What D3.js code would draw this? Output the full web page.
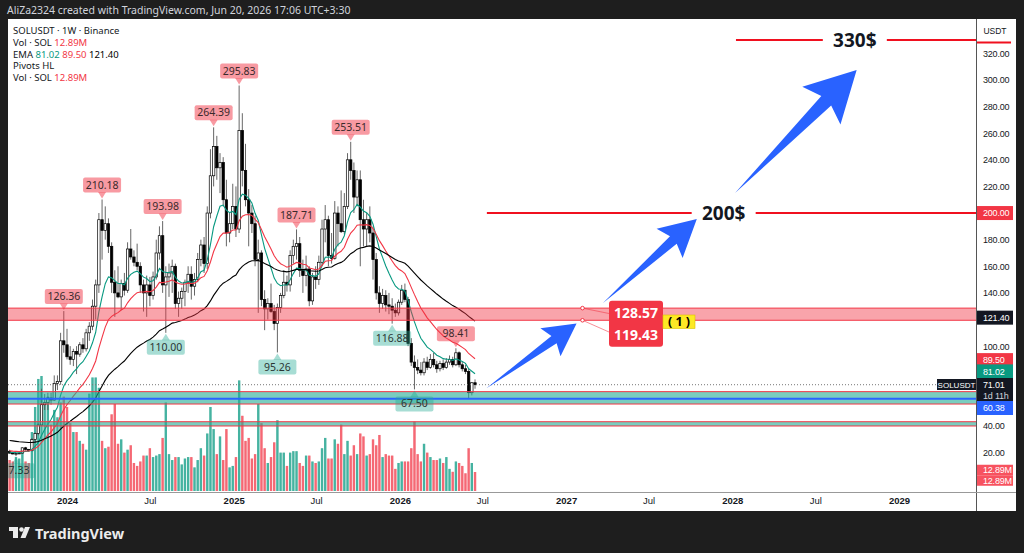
<!DOCTYPE html>
<html><head><meta charset="utf-8">
<script src="https://cdn.jsdelivr.net/npm/d3@7"></script>
<style>
html,body{margin:0;padding:0;background:#1e1e1e;}
svg{display:block;font-family:"Noto Sans","DejaVu Sans",sans-serif;}
</style></head><body>
<svg id="c" width="1024" height="553"></svg>
<script>
// ---------------- DATA ----------------
const startWeek = "2023-08-28"; // first weekly bar (Monday)
// weekly candles [open, high, low, close]
const ohlc = [
[21.0,22.1,19.3,19.6],[19.6,20.3,18.6,19.0],[19.0,19.9,17.33,19.4],[19.4,20.4,18.9,19.6],[19.6,24.0,19.2,23.6],
[23.6,24.3,21.6,22.4],[22.4,22.8,20.6,21.4],[21.4,31.0,21.2,29.8],[29.8,35.0,28.0,34.4],[34.4,42.0,33.0,40.8],
[40.8,68.0,40.5,56.0],[56.0,64.0,52.0,57.5],[57.5,65.0,52.0,61.0],[61.0,65.0,56.0,59.5],[59.5,78.0,59.0,72.0],
[72.0,78.0,67.0,73.5],[73.5,110.0,71.0,104.0],[104.0,126.36,95.0,101.0],[101.0,113.0,90.0,92.0],[92.0,100.0,86.0,90.0],
[90.0,98.0,85.0,96.0],[96.0,100.0,79.0,94.0],[94.0,103.0,92.0,101.0],[101.0,106.0,95.0,98.0],[98.0,113.0,96.0,110.0],
[110.0,118.0,104.0,115.0],[115.0,135.0,112.0,130.0],[130.0,150.0,120.0,146.0],[146.0,200.0,140.0,195.0],[195.0,210.18,165.0,187.0],
[187,205,180,192],[192,196,170,175],[175,178,140,148],[148,157,122,140],[140,160,136,137],
[137,150,127,147],[147,155,138,142],[142,178,140,173],[173,188,165,167],[167,172,160,163],
[163,177,157,160],[160,163,140,146],[146,150,126,140],[140,153,122,146],[146,152,130,138],
[138,156,135,152],[152,180,150,170],[170,190,165,183],[183,193.98,140,146],[146,160,110,152],
[152,162,137,155],[155,165,140,160],[160,162,128,132],[132,141,122,136],[136,144,128,141],
[141,150,130,148],[148,160,140,154],[154,160,135,145],[145,155,138,150],[150,170,148,165],
[165,180,160,176],[176,182,155,162],[162,205,158,200],[200,248,196,228],[228,264.39,220,250],
[250,258,225,234],[234,245,215,238],[238,242,205,210],[210,225,175,185],[185,200,178,192],
[192,222,188,205],[205,220,182,188],[188,295.83,185,262],[262,275,220,232],[232,252,205,210],
[210,218,175,200],[200,206,185,192],[192,198,160,165],[165,180,125,170],[170,172,130,135],
[135,142,112,128],[128,136,120,132],[132,147,125,126],[126,131,112,117],[117,132,95.26,129],
[129,140,125,138],[138,157,136,148],[148,153,141,146],[146,172,141,168],[168,180,162,175],
[175,187.71,165,177],[177,182,152,157],[157,165,140,153],[153,168,145,158],[158,160,130,134],
[134,155,131,152],[152,160,143,150],[150,168,146,163],[163,195,160,188],[188,206,178,195],
[195,198,160,168],[168,185,162,166],[166,209,165,200],[200,205,175,192],[192,217,185,186],
[186,215,184,205],[205,245,203,240],[240,253.51,225,232],[232,238,200,212],[212,232,205,225],
[225,232,160,195],[195,210,175,188],[188,200,175,195],[195,205,178,185],[185,190,150,165],
[165,170,135,140],[140,145,125,132],[132,143,128,138],[138,142,126,131],[131,140,124,130],
[130,136,116.88,127],[127,132,122,125],[125,135,123,133],[133,146,131,142],[142,147,133,135],
[135,137,100,102],[102,106,85,88],[88,93,67.5,84],[84,90,79,82],[82,88,78,80],
[80,91,78,88],[88,92,82,84],[84,94,83,90],[90,95,84,86],[86,89,80,83],
[83,89,81,87],[87,90,82,84],[84,91,83,88],[88,93,86,90],[90,92,84,86],
[86,98.41,85,95],[95,96,84,86],[86,88,81,83],[83,86,79,81],[81,83,60.38,65],
[65,73,63,72.5],[72.5,75,68,71.01]
];
// weekly volume, millions of SOL
const volumes = [
21,20,23,22,28,20,19,40,57,76,78,60,64,45,55,50,60,64,57,46,40,40,34,32,28,66,77,77,70,34,
29,30,52,59,32,35,26,28,31,19,17,20,24,24,29,23,24,25,36,60,25,21,23,23,18,22,23,23,16,21,
29,24,39,57,42,25,37,21,42,16,17,23,75,51,34,36,22,25,59,46,29,19,23,33,48,26,26,17,26,27,
27,19,17,24,24,20,19,20,29,36,22,22,35,32,45,25,34,24,31,25,39,37,24,25,35,31,38,23,25,24,
24,15,19,20,20,20,29,47,25,20,32,26,23,21,21,22,19,23,15,13,20,19,17,12,29,19,12.89
];
const pivotHighs = [126.36,210.18,193.98,264.39,295.83,187.71,253.51,98.41];
const pivotLows = [17.33,110.00,95.26,116.88,67.50];
const emaPeriods = [10,21,55];
const emaSeeds = [20.5,21.5,29.5];
const emaLabels = ["81.02","89.50","121.40"];
const redZone = [119.43,128.57];
const tealZone = [56.5,65.8];
const tealZone2 = [40.0,43.2];
const supportLine = 60.38;
const lastPrice = 71.01;
const priceTicks = [20,40,60,80,100,120,140,160,180,200,220,240,260,280,300,320];
const timeTicks = ["2024-01-01","2024-07-01","2025-01-01","2025-07-01","2026-01-01","2026-07-01","2027-01-01","2027-07-01","2028-01-01","2028-07-01","2029-01-01"];
const timeTickLabels = ["2024","Jul","2025","Jul","2026","Jul","2027","Jul","2028","Jul","2029"];
// target drawings (date, price)
const targets = [{from:"2026-07-11",price:200,label:"200$",labelAt:"2027-12-13"},{from:"2028-01-09",price:330,label:"330$",labelAt:"2028-09-26"}];
const arrows = [
 {from:["2026-07-10",68.3],to:["2027-01-24",117.1]},
 {from:["2027-03-23",132.4],to:["2027-10-15",195.5]},
 {from:["2028-01-07",215],to:["2028-09-30",307.5]}
];
const rangePoint = "2027-02-06";
const rangeValues = ["128.57","119.43"];

// ---------------- SCALES ----------------
const PL=8, PR=976, PT=19, PB=492;
const AX = "Liberation Sans, Arial, sans-serif";
const D = s => new Date(s+"T00:00:00Z");
const x = d3.scaleUtc().domain([D("2024-01-01"),D("2029-01-01")]).range([67,899]);
const y = d3.scaleLinear().domain([-9.6,345.8]).range([PB,PT]);
const yv = d3.scaleLinear().domain([0,100]).range([491,343.6]);
const t0 = D(startWeek);
const bars = ohlc.map((d,i)=>({date:d3.utcDay.offset(t0,7*i),o:d[0],h:d[1],l:d[2],c:d[3],v:volumes[i]}));

const svg = d3.select("#c");
svg.append("rect").attr("width",1024).attr("height",553).attr("fill","#1e1e1e");
svg.append("rect").attr("x",8).attr("y",19).attr("width",1008).attr("height",492).attr("fill","#ffffff");
svg.append("clipPath").attr("id","pc").append("rect").attr("x",PL).attr("y",PT).attr("width",PR-PL).attr("height",PB-PT);
const g = svg.append("g").attr("clip-path","url(#pc)");

// volume (two identical volume indicators)
for(let k=0;k<2;k++){
 g.append("g").selectAll("rect").data(bars).join("rect")
  .attr("x",d=>x(d.date)-1.15).attr("width",2.3)
  .attr("y",d=>yv(d.v)).attr("height",d=>yv(0)-yv(d.v))
  .attr("fill",d=>d.c>=d.o?"rgba(8,153,129,0.5)":"rgba(242,54,69,0.5)");
}
// candles
const cg = g.append("g");
cg.selectAll("line").data(bars).join("line")
 .attr("x1",d=>x(d.date)).attr("x2",d=>x(d.date)).attr("y1",d=>y(d.h)).attr("y2",d=>y(d.l))
 .attr("stroke","#555").attr("stroke-width",0.9);
cg.selectAll("rect").data(bars).join("rect")
 .attr("x",d=>x(d.date)-1.2).attr("width",2.4)
 .attr("y",d=>y(Math.max(d.o,d.c))).attr("height",d=>Math.max(0.8,Math.abs(y(d.o)-y(d.c))))
 .attr("fill",d=>d.c>=d.o?"#ffffff":"#000000").attr("stroke","#000").attr("stroke-width",0.7);

// EMAs
const emaColors=["#089981","#f23645","#000000"];
const emaVals = emaPeriods.map((p,k)=>{let e=emaSeeds[k];const a=2/(p+1);return bars.map(b=>{e=a*b.c+(1-a)*e;return e;});});
emaVals.forEach((vals,k)=>{
 g.append("path").datum(vals).attr("fill","none").attr("stroke",emaColors[k]).attr("stroke-width",1.1)
  .attr("d",d3.line().x((v,i)=>x(bars[i].date)).y(v=>y(v)));
});

// zones
function zone(r,fill){
 g.append("rect").attr("x",PL).attr("width",PR-PL).attr("y",y(r[1])).attr("height",y(r[0])-y(r[1])).attr("fill",fill);
 [r[0],r[1]].forEach(v=>g.append("line").attr("x1",PL).attr("x2",PR).attr("y1",y(v)).attr("y2",y(v)).attr("stroke","#f23645").attr("stroke-width",1));
}
zone(redZone,"rgba(242,54,69,0.45)");
zone(tealZone,"rgba(34,171,148,0.6)");
zone(tealZone2,"rgba(34,171,148,0.6)");
g.append("line").attr("x1",PL).attr("x2",PR).attr("y1",y(supportLine)).attr("y2",y(supportLine)).attr("stroke","#2962ff").attr("stroke-width",2);
g.append("line").attr("x1",PL).attr("x2",PR).attr("y1",y(lastPrice)).attr("y2",y(lastPrice)).attr("stroke","#777").attr("stroke-width",1).attr("stroke-dasharray","1,2");

// pivot labels
function pivotLabel(xc,yv0,text,high){
 const w=38,h=15;
 const lg=g.append("g");
 if(high){
  const tip=yv0-1, by=tip-6-h;
  lg.append("path").attr("d",`M${xc-4},${tip-6.5}L${xc},${tip}L${xc+4},${tip-6.5}Z`).attr("fill","rgba(242,54,69,0.5)");
  lg.append("rect").attr("x",xc-w/2).attr("y",by).attr("width",w).attr("height",h).attr("rx",2).attr("fill","rgba(242,54,69,0.5)");
  lg.append("text").attr("x",xc).attr("y",by+h/2+3.6).attr("text-anchor","middle").attr("font-size",10.5).attr("fill","#3a2a2c").text(text);
 } else {
  const tip=yv0+1, by=tip+6;
  lg.append("path").attr("d",`M${xc-4},${tip+6.5}L${xc},${tip}L${xc+4},${tip+6.5}Z`).attr("fill","rgba(34,171,148,0.4)");
  lg.append("rect").attr("x",xc-w/2).attr("y",by).attr("width",w).attr("height",h).attr("rx",2).attr("fill","rgba(34,171,148,0.4)");
  lg.append("text").attr("x",xc).attr("y",by+h/2+3.6).attr("text-anchor","middle").attr("font-size",10.5).attr("fill","#2a3533").text(text);
 }
}
pivotHighs.forEach(v=>{const b=bars.find(b=>b.h===v);pivotLabel(x(b.date),y(v),v.toFixed(2),true);});
pivotLows.forEach(v=>{const b=bars.find(b=>b.l===v);pivotLabel(x(b.date),y(v),v.toFixed(2),false);});

// targets
targets.forEach(t=>{
 const yy=y(t.price), xc=x(D(t.labelAt));
 g.append("line").attr("x1",x(D(t.from))).attr("x2",xc-32).attr("y1",yy).attr("y2",yy).attr("stroke","#f0101f").attr("stroke-width",2);
 g.append("line").attr("x1",xc+32).attr("x2",PR).attr("y1",yy).attr("y2",yy).attr("stroke","#f0101f").attr("stroke-width",2);
 g.append("text").attr("x",xc).attr("y",yy+6.5).attr("text-anchor","middle").attr("font-size",19).attr("font-weight","bold").attr("fill","#131722").text(t.label);
});
// arrows
arrows.forEach(a=>{
 const x0=x(D(a.from[0])),y0=y(a.from[1]),x1=x(D(a.to[0])),y1=y(a.to[1]);
 const dx=x1-x0,dy=y1-y0,L=Math.hypot(dx,dy),ux=dx/L,uy=dy/L,nx=-uy,ny=ux;
 const hl=0.29*L,hw=0.155*L,sw=0.04*L;
 const bx=x1-ux*hl,by=y1-uy*hl, jx=bx+ux*0.04*L, jy=by+uy*0.04*L;
 const pts=[[x0,y0],[jx+nx*sw,jy+ny*sw],[bx+nx*hw,by+ny*hw],[x1,y1],[bx-nx*hw,by-ny*hw],[jx-nx*sw,jy-ny*sw]];
 g.append("path").attr("d","M"+pts.map(p=>p.join(",")).join("L")+"Z").attr("fill","#2962ff");
});
// price range annotation
{
 const px=x(D(rangePoint)), y1=y(+rangeValues[0]), y2=y(+rangeValues[1]);
 const bx=609,bw=54,btop=300.7,bh=46;
 g.append("line").attr("x1",px).attr("y1",y1).attr("x2",bx).attr("y2",313.5).attr("stroke","#f23645").attr("stroke-width",0.8).attr("opacity",0.7);
 g.append("line").attr("x1",px).attr("y1",y2).attr("x2",bx).attr("y2",332).attr("stroke","#f23645").attr("stroke-width",0.8).attr("opacity",0.7);
 [y1,y2].forEach(yy=>g.append("circle").attr("cx",px).attr("cy",yy).attr("r",1.8).attr("fill","#fff").attr("stroke","#f23645").attr("stroke-width",1));
 g.append("rect").attr("x",bx).attr("y",btop).attr("width",bw).attr("height",bh).attr("rx",3).attr("fill","#f23645");
 g.append("text").attr("x",bx+bw/2).attr("y",317.5).attr("text-anchor","middle").attr("font-size",14).attr("font-weight","bold").attr("fill","#fff").text(rangeValues[0]);
 g.append("text").attr("x",bx+bw/2).attr("y",340).attr("text-anchor","middle").attr("font-size",14).attr("font-weight","bold").attr("fill","#fff").text(rangeValues[1]);
 g.append("rect").attr("x",663).attr("y",315).attr("width",32).attr("height",13.5).attr("fill","#fde925").attr("stroke","#d9c200").attr("stroke-width",0.6);
 g.append("text").attr("x",679).attr("y",326).attr("text-anchor","middle").attr("font-size",12.5).attr("font-weight","bold").attr("fill","#000").text("( 1 )");
}

// ---------------- AXES ----------------
// special price-scale labels (y centre, text, background, height)
const axisLabels = [
 {yy:y(200),text:"200.00",bg:"#f23645",h:14},
 {yy:y(121.4),text:"121.40",bg:"#131722",h:14},
 {yy:y(89.5),text:"89.50",bg:"#f23645",h:14},
 {yy:y(81.02),text:"81.02",bg:"#089981",h:14},
 {yy:390,text:null,bg:"#131722",h:24},
 {yy:408,text:"60.38",bg:"#2962ff",h:14},
 {yy:470,text:"12.89M",bg:"#f7525f",h:10.5},
 {yy:480.5,text:"12.89M",bg:"#f7525f",h:10.5}
];
svg.append("line").attr("x1",PR+0.5).attr("x2",PR+0.5).attr("y1",PT).attr("y2",511).attr("stroke","#555");
svg.append("line").attr("x1",PL).attr("x2",1016).attr("y1",PB+0.5).attr("y2",PB+0.5).attr("stroke","#999");
const freeTicks = priceTicks.filter(v=>!axisLabels.some(l=>Math.abs(y(v)-l.yy)<l.h/2+5));
const ya = svg.append("g").attr("transform",`translate(${PR},0)`)
 .call(d3.axisRight(y).tickValues(freeTicks).tickSize(0).tickPadding(7).tickFormat(d=>d.toFixed(2)));
ya.select(".domain").remove();
ya.selectAll("text").attr("font-size",9).attr("letter-spacing",-0.2).attr("fill","#131722").attr("font-family",AX);
const xa = svg.append("g").attr("transform",`translate(0,${PB})`)
 .call(d3.axisBottom(x).tickValues(timeTicks.map(D)).tickSize(0).tickPadding(5).tickFormat((d,i)=>timeTickLabels[i]));
xa.select(".domain").remove();
xa.selectAll("text").attr("font-size",9.5).attr("fill","#131722").attr("font-family",AX)
 .attr("font-weight",(d,i)=>/^\d/.test(timeTickLabels[i])?"bold":"normal");
svg.append("text").attr("x",995).attr("y",33.5).attr("text-anchor","middle").attr("font-size",8.5).attr("font-family",AX).attr("fill","#131722").text("USDT");
svg.append("line").attr("x1",977).attr("x2",1011).attr("y1",42.5).attr("y2",42.5).attr("stroke","#f0101f").attr("stroke-width",2);

axisLabels.forEach(l=>{
 svg.append("rect").attr("x",977).attr("y",l.yy-l.h/2).attr("width",36).attr("height",l.h).attr("fill",l.bg);
 if(l.text) svg.append("text").attr("x",983).attr("y",l.yy+3.3).attr("font-size",9).attr("letter-spacing",-0.2).attr("font-family",AX).attr("fill","#fff").text(l.text);
});
svg.append("text").attr("x",983).attr("y",387.8).attr("font-size",9).attr("letter-spacing",-0.2).attr("font-family",AX).attr("fill","#fff").text("71.01");
svg.append("text").attr("x",983).attr("y",398.8).attr("font-size",9).attr("letter-spacing",-0.2).attr("font-family",AX).attr("fill","#d1d4dc").text("1d 11h");
svg.append("rect").attr("x",937).attr("y",379).attr("width",39).attr("height",11).attr("fill","#131722");
svg.append("text").attr("x",956.5).attr("y",387.5).attr("text-anchor","middle").attr("font-size",8).attr("font-family",AX).attr("fill","#fff").text("SOLUSDT");

// ---------------- LEGEND ----------------
const lg = svg.append("g").attr("font-size",9.5).attr("fill","#131722");
lg.append("text").attr("x",13).attr("y",34).text("SOLUSDT · 1W · Binance");
const l2 = lg.append("text").attr("x",13).attr("y",46); l2.append("tspan").text("Vol · SOL  "); l2.append("tspan").attr("fill","#f23645").text("12.89M");
const l3 = lg.append("text").attr("x",13).attr("y",57.5);
l3.append("tspan").text("EMA  ");
emaLabels.forEach((t,k)=>l3.append("tspan").attr("fill",emaColors[k]).text(t+"  "));
lg.append("text").attr("x",13).attr("y",69).text("Pivots HL");
const l5 = lg.append("text").attr("x",13).attr("y",81); l5.append("tspan").text("Vol · SOL  "); l5.append("tspan").attr("fill","#f23645").text("12.89M");

// header / footer
svg.append("text").attr("x",7).attr("y",13.5).attr("font-size",10.5).attr("fill","#d1d4dc").text("AliZa2324 created with TradingView.com, Jun 20, 2026 17:06 UTC+3:30");
const f = svg.append("g").attr("fill","#ececec");
f.append("rect").attr("x",9).attr("y",527).attr("width",9).attr("height",4);
f.append("rect").attr("x",13).attr("y",527).attr("width",5).attr("height",11);
f.append("circle").attr("cx",21.5).attr("cy",529.5).attr("r",2.3);
f.append("path").attr("d","M25,527L30,527L25.5,538L20.5,538Z");
f.append("text").attr("x",35).attr("y",538.5).attr("font-size",14.5).attr("font-weight","bold").text("TradingView");
</script></body></html>
